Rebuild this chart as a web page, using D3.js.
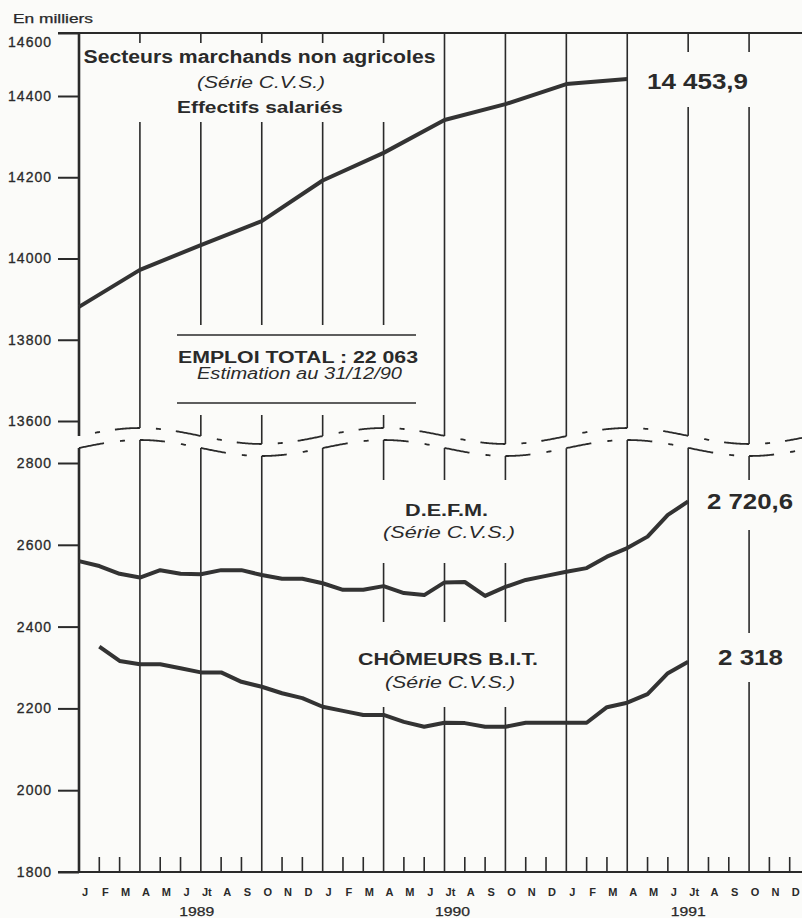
<!DOCTYPE html>
<html>
<head>
<meta charset="utf-8">
<script src="https://cdn.jsdelivr.net/npm/d3@7"></script>
<style>
  body { margin: 0; background: #fbfbf9; }
  svg { display: block; font-family: "Liberation Sans", Arial, Helvetica, sans-serif; }
</style>
</head>
<body>
<div id="chart"></div>
<script>
// --- données (en milliers) ---
const moisLabels = ["J", "F", "M", "A", "M", "J", "Jt", "A", "S", "O", "N", "D"];
const annees = ["1989", "1990", "1991"];
const ticksHaut = [13600, 13800, 14000, 14200, 14400, 14600];
const ticksBas = [1800, 2000, 2200, 2400, 2600, 2800];

// effectifs salariés, trimestriels (indice du mois depuis janvier 1989)
const emploiMois = [0, 3, 6, 9, 12, 15, 18, 21, 24, 27];
const emploiValeurs = [13881, 13972, 14033, 14092, 14192, 14260, 14341, 14380, 14438, 14453.9];

// D.E.F.M. mensuelles, janvier 1989 -> juillet 1991
const defmDebut = 0;
const defmValeurs = [2560, 2548, 2529, 2520, 2538, 2529, 2528, 2538, 2538, 2526, 2517, 2517,
                     2506, 2490, 2490, 2499, 2482, 2477, 2508, 2509, 2475, 2497, 2514, 2524,
                     2534, 2543, 2571, 2592, 2620, 2673, 2706];

// chômeurs B.I.T., février 1989 -> juillet 1991
const bitDebut = 1;
const bitValeurs = [2351, 2316, 2308, 2308, 2298, 2288, 2288, 2265, 2253, 2237, 2225,
                    2204, 2194, 2184, 2184, 2167, 2155, 2165, 2164, 2155, 2155, 2165, 2165,
                    2165, 2165, 2203, 2214, 2235, 2286, 2314];

const W = 802, H = 918;
const ink = "#2a2a2a";

const svg = d3.select("#chart").append("svg")
  .attr("width", W)
  .attr("height", H);

svg.append("rect").attr("width", W).attr("height", H).attr("fill", "#fbfbf9");

const x = d3.scaleLinear().domain([0, 36]).range([79, 810]);
// the top part is squeezed above 14400 on the original
const yHaut = d3.scaleLinear().domain([13600, 14400, 14600]).range([421, 96, 33]);
const yBas = d3.scaleLinear().domain([1800, 2800]).range([872, 463]);

// break of the axis: two wavy lines
const vague = xx => 436 - 8 * Math.cos(2 * Math.PI * (xx - 140) / 244);
const vagueBas = xx => vague(xx) + 12;

const grille = svg.append("g").attr("stroke", ink).attr("fill", "none");

// quarter lines (full height, cut by the break)
const trimestres = d3.range(0, 37, 3).filter(m => x(m) < W);
trimestres.forEach(m => {
  const xx = x(m);
  grille.append("line")
    .attr("x1", xx).attr("x2", xx)
    .attr("y1", yHaut(14600)).attr("y2", vague(xx))
    .attr("stroke-width", m === 0 ? 2.6 : 1.6);
  grille.append("line")
    .attr("x1", xx).attr("x2", xx)
    .attr("y1", vagueBas(xx)).attr("y2", yBas(1800))
    .attr("stroke-width", m === 0 ? 2.6 : 1.6);
});

// top frame and bottom axis line
grille.append("line")
  .attr("x1", 58).attr("x2", W)
  .attr("y1", yHaut(14600)).attr("y2", yHaut(14600))
  .attr("stroke-width", 2);
grille.append("line")
  .attr("x1", 58).attr("x2", W)
  .attr("y1", yBas(1800)).attr("y2", yBas(1800))
  .attr("stroke-width", 2);

// small monthly ticks on the bottom axis
d3.range(0, 36).filter(m => m % 3 !== 0).forEach(m => {
  grille.append("line")
    .attr("x1", x(m)).attr("x2", x(m))
    .attr("y1", yBas(1800) - 15).attr("y2", yBas(1800))
    .attr("stroke-width", 1.6);
});

// dash-dot wavy lines, dashes lined up with the quarter lines
function segment(f, a, b) {
  const pts = d3.range(a, b + 0.5, 1).map(v => [v, f(v)]);
  grille.append("path")
    .attr("d", d3.line()(pts))
    .attr("stroke-width", 1.8);
}
trimestres.concat([36]).forEach(m => {
  const q = x(m);
  if (q - 25 >= 79) segment(vague, q - 25, Math.min(q, W));
  if (q + 16 < W) segment(vague, q + 16, Math.min(q + 21, W));
  if (q < W) segment(vagueBas, q, Math.min(q + 25, W));
  if (q + 41 < W) segment(vagueBas, q + 41, Math.min(q + 46, W));
});

// y axes
function axe(scale, valeurs) {
  const g = svg.append("g")
    .attr("transform", "translate(79,0)")
    .call(d3.axisLeft(scale).tickValues(valeurs).tickSize(21).tickPadding(6).tickFormat(d3.format("d")));
  g.select(".domain").remove();
  g.selectAll(".tick line").attr("stroke", ink).attr("stroke-width", 2);
  g.selectAll(".tick text")
    .attr("fill", ink)
    .attr("stroke", ink)
    .attr("stroke-width", 0.3)
    .style("font-size", "14px")
    .style("letter-spacing", "1px")
    .style("font-family", "'Liberation Sans', Arial, sans-serif");
  return g;
}
const axeHaut = axe(yHaut, ticksHaut);
axe(yBas, ticksBas);
// on the original the top label sits just under the frame line
axeHaut.selectAll(".tick text").filter(d => d === 14600).attr("dy", "0.95em");

// white blocks behind the labels (they cut the grid lines)
const blancs = [
  [82, 43, 356, 79],
  [640, 52, 120, 55],
  [170, 325, 250, 90],
  [375, 480, 145, 83],
  [350, 622, 195, 85],
  [698, 480, 104, 50],
  [698, 633, 104, 49]
];
svg.append("g").selectAll("rect").data(blancs).join("rect")
  .attr("x", d => d[0]).attr("y", d => d[1])
  .attr("width", d => d[2]).attr("height", d => d[3])
  .attr("fill", "#fbfbf9");

// rules of the EMPLOI TOTAL box
[335, 403].forEach(yy => {
  svg.append("line")
    .attr("x1", 177).attr("x2", 416)
    .attr("y1", yy).attr("y2", yy)
    .attr("stroke", ink).attr("stroke-width", 1.6);
});

// series
const courbes = svg.append("g")
  .attr("fill", "none")
  .attr("stroke", "#333")
  .attr("stroke-width", 4)
  .attr("stroke-linejoin", "round");

courbes.append("path")
  .datum(emploiValeurs.map((v, i) => [emploiMois[i], v]))
  .attr("d", d3.line().x(d => x(d[0])).y(d => yHaut(d[1])));

courbes.append("path")
  .datum(defmValeurs.map((v, i) => [defmDebut + i, v]))
  .attr("d", d3.line().x(d => x(d[0])).y(d => yBas(d[1])));

courbes.append("path")
  .datum(bitValeurs.map((v, i) => [bitDebut + i, v]))
  .attr("d", d3.line().x(d => x(d[0])).y(d => yBas(d[1])));

// texts
function texte(t, xx, yy, opts) {
  const el = svg.append("text")
    .attr("x", xx).attr("y", yy)
    .attr("fill", ink)
    .attr("text-anchor", opts.anchor || "middle")
    .style("font-size", opts.size + "px")
    .style("font-weight", opts.bold ? "bold" : "normal")
    .style("font-style", opts.italic ? "italic" : "normal")
    .text(t);
  if (opts.len) el.attr("textLength", opts.len).attr("lengthAdjust", "spacingAndGlyphs");
  return el;
}

texte("En milliers", 13, 23, { anchor: "start", size: 12, len: 80 }).attr("stroke", ink).attr("stroke-width", 0.25);

texte("Secteurs marchands non agricoles", 259.5, 63, { size: 18, bold: true, len: 352 });
texte("(Série C.V.S.)", 261, 88, { size: 16, italic: true, len: 128 });
texte("Effectifs salariés", 260, 113, { size: 17, bold: true, len: 166 });
texte("14 453,9", 647, 89, { anchor: "start", size: 22, bold: true, len: 101 });

texte("EMPLOI TOTAL : 22 063", 298, 363, { size: 16, bold: true, len: 240 });
texte("Estimation au 31/12/90", 299.5, 379, { size: 16, italic: true, len: 205 });

texte("D.E.F.M.", 446.5, 516, { size: 17, bold: true, len: 83 });
texte("(Série C.V.S.)", 449, 538, { size: 16, italic: true, len: 132 });
texte("2 720,6", 707, 509, { anchor: "start", size: 22, bold: true, len: 86 });

texte("CHÔMEURS B.I.T.", 358, 665, { anchor: "start", size: 17, bold: true, len: 180 });
texte("(Série C.V.S.)", 450, 688, { size: 16, italic: true, len: 130 });
texte("2 318", 718, 665, { anchor: "start", size: 22, bold: true, len: 65 });

// month and year labels
d3.range(0, 36).forEach(m => {
  texte(moisLabels[m % 12], x(m) + 6, 896, { size: 11, bold: true });
});
annees.forEach((a, i) => {
  texte(a, x(i * 12 + 6) + (i === 0 ? -4 : i === 1 ? 8 : 0), 916, { size: 12, len: 35 })
    .attr("stroke", ink).attr("stroke-width", 0.25);
});
</script>
</body>
</html>
